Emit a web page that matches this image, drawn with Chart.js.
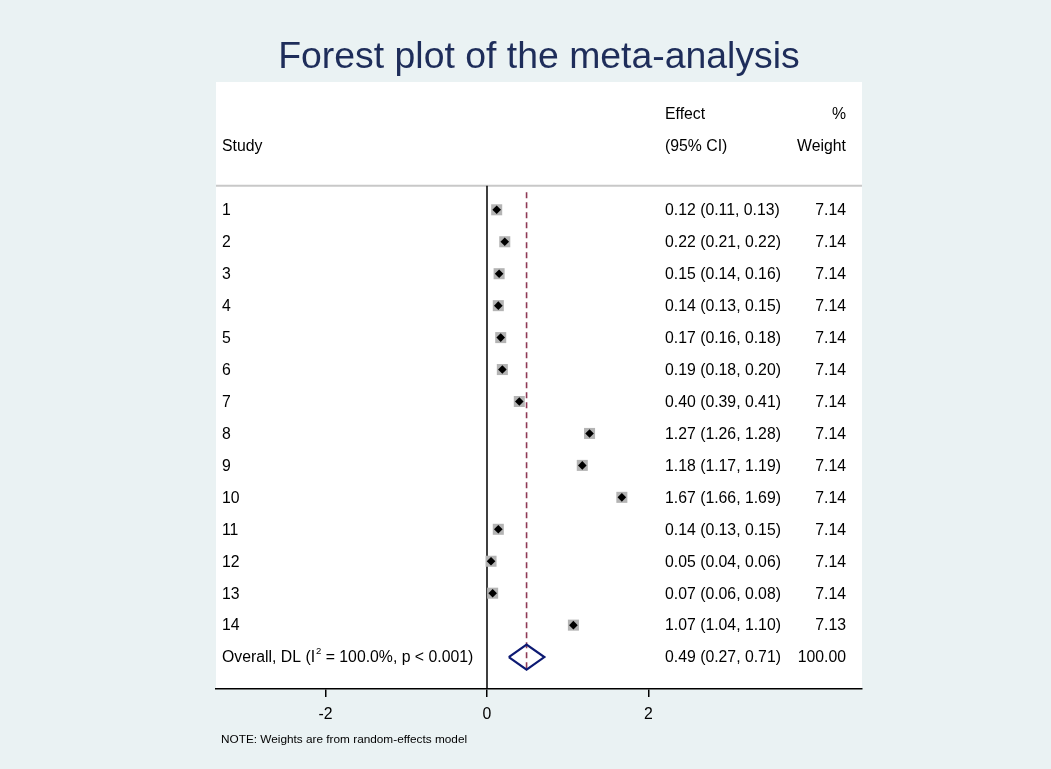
<!DOCTYPE html>
<html>
<head>
<meta charset="utf-8">
<script src="https://cdn.jsdelivr.net/npm/chart.js@4.4.1/dist/chart.umd.min.js"></script>
<style>
  html, body { margin: 0; padding: 0; background: #eaf2f3; }
  #wrap { width: 1051px; height: 769px; position: relative; }
</style>
</head>
<body>
<div id="wrap"><canvas id="forest"></canvas></div>
<script>
/* ─── Data ────────────────────────────────────────────────────────────── */
const studies = ['1','2','3','4','5','6','7','8','9','10','11','12','13','14'];
const effect  = [0.12,0.22,0.15,0.14,0.17,0.19,0.40,1.27,1.18,1.67,0.14,0.05,0.07,1.07];
const lower   = [0.11,0.21,0.14,0.13,0.16,0.18,0.39,1.26,1.17,1.66,0.13,0.04,0.06,1.04];
const upper   = [0.13,0.22,0.16,0.15,0.18,0.20,0.41,1.28,1.19,1.69,0.15,0.06,0.08,1.10];
const weights = [7.14,7.14,7.14,7.14,7.14,7.14,7.14,7.14,7.14,7.14,7.14,7.14,7.14,7.13];
const overall = { effect: 0.49, lower: 0.27, upper: 0.71, weight: 100.00 };
const overallLabel = ['Overall, DL (I', '2', ' = 100.0%, p < 0.001)'];
const xTicks  = [-2, 0, 2];

/* ─── Layout constants ────────────────────────────────────────────────── */
const X_MIN = -3.356, X_MAX = 4.644;
const Y_MIN = -3, Y_MAX = 16;
const rows = studies.map((_, i) => i + 1);
const overallRow = studies.length + 1;
const FONT = "'Liberation Sans', Arial, sans-serif";
const TXT = 15.8;   // table font size
const DY = 1;       // small baseline nudge for table text

const fmt = v => v.toFixed(2);

/* ─── Plugins ─────────────────────────────────────────────────────────── */
const backdrop = {
  id: 'backdrop',
  beforeDraw(chart) {
    const { ctx, chartArea: a } = chart;
    ctx.save();
    ctx.fillStyle = '#eaf2f3';
    ctx.fillRect(0, 0, chart.width, chart.height);
    ctx.fillStyle = '#ffffff';
    ctx.fillRect(a.left, a.top, a.right - a.left, a.bottom - a.top);
    ctx.restore();
  },
};

const tableText = {
  id: 'tableText',
  afterDraw(chart) {
    const { ctx, chartArea: a } = chart;
    const y = chart.scales.y;
    const rowY = r => y.getPixelForValue(r) + DY;
    const xStudy = a.left + 6, xEff = 665, xWt = 846;
    ctx.save();
    ctx.fillStyle = '#000';
    ctx.textBaseline = 'middle';
    ctx.font = `${TXT}px ${FONT}`;

    // header
    ctx.textAlign = 'left';
    ctx.fillText('Study', xStudy, rowY(-1));
    ctx.fillText('Effect', xEff, rowY(-2));
    ctx.fillText('(95% CI)', xEff, rowY(-1));
    ctx.textAlign = 'right';
    ctx.fillText('%', xWt, rowY(-2));
    ctx.fillText('Weight', xWt, rowY(-1));

    // study rows
    studies.forEach((s, i) => {
      const py = rowY(rows[i]);
      ctx.textAlign = 'left';
      ctx.fillText(s, xStudy, py);
      ctx.fillText(`${fmt(effect[i])} (${fmt(lower[i])}, ${fmt(upper[i])})`, xEff, py);
      ctx.textAlign = 'right';
      ctx.fillText(fmt(weights[i]), xWt, py);
    });

    // overall row with superscript
    const po = rowY(overallRow);
    ctx.textAlign = 'left';
    let cx = xStudy;
    ctx.fillText(overallLabel[0], cx, po);
    cx += ctx.measureText(overallLabel[0]).width + 1;
    ctx.font = `9.5px ${FONT}`;
    ctx.fillText(overallLabel[1], cx, po - 7);
    cx += ctx.measureText(overallLabel[1]).width;
    ctx.font = `${TXT}px ${FONT}`;
    ctx.fillText(overallLabel[2], cx, po);
    ctx.fillText(`${fmt(overall.effect)} (${fmt(overall.lower)}, ${fmt(overall.upper)})`, xEff, po);
    ctx.textAlign = 'right';
    ctx.fillText(fmt(overall.weight), xWt, po);

    // title and note
    ctx.textAlign = 'center';
    ctx.fillStyle = '#1e2d5a';
    ctx.font = `37.4px ${FONT}`;
    ctx.fillText('Forest plot of the meta-analysis', 539, 58);
    ctx.textAlign = 'left';
    ctx.fillStyle = '#000';
    ctx.font = `11.8px ${FONT}`;
    ctx.fillText('NOTE: Weights are from random-effects model', 221, 740);
    ctx.restore();
  },
};

/* ─── Datasets ────────────────────────────────────────────────────────── */
const ciData = [];
rows.forEach((r, i) => {
  ciData.push({ x: lower[i], y: r }, { x: upper[i], y: r }, { x: null, y: null });
});
const hd = 0.39; // diamond half-height in rows
const diamond = [
  { x: overall.lower, y: overallRow },
  { x: overall.effect, y: overallRow - hd },
  { x: overall.upper, y: overallRow },
  { x: overall.effect, y: overallRow + hd },
  { x: overall.lower, y: overallRow },
];

const lineDs = (data, color, width, extra = {}) => ({
  data, showLine: true, pointRadius: 0, borderColor: color, borderWidth: width,
  fill: false, ...extra,
});

new Chart(document.getElementById('forest'), {
  type: 'scatter',
  data: {
    datasets: [
      lineDs([{ x: X_MIN, y: 0.25 }, { x: X_MAX, y: 0.25 }], '#c8c8c8', 2, { order: 9 }),
      lineDs([{ x: 0, y: 0.25 }, { x: 0, y: Y_MAX }], '#000', 1.5, { order: 8 }),
      lineDs([{ x: overall.effect, y: 0.45 }, { x: overall.effect, y: 15.47 }], '#8e3a55', 1.6,
        { borderDash: [6, 4], order: 7 }),
      { data: rows.map((r, i) => ({ x: effect[i], y: r })), pointStyle: 'rect',
        pointRadius: 7.8, backgroundColor: '#b4b4b4', borderWidth: 0, order: 6 },
      lineDs(ciData, '#000', 1, { spanGaps: false, order: 5 }),
      { data: rows.map((r, i) => ({ x: effect[i], y: r })), pointStyle: 'rectRot',
        pointRadius: 4.3, backgroundColor: '#000', borderWidth: 0, order: 4 },
      lineDs(diamond, '#0d1a73', 2.2, { order: 3, borderJoinStyle: 'miter' }),
    ],
  },
  options: {
    responsive: true, maintainAspectRatio: false, animation: false,
    layout: { padding: { top: 82, left: 216, right: 189, bottom: 37 } },
    plugins: { legend: { display: false }, tooltip: { enabled: false } },
    scales: {
      x: {
        type: 'linear', min: X_MIN, max: X_MAX,
        afterBuildTicks: ax => { ax.ticks = xTicks.map(v => ({ value: v })); },
        grid: { drawOnChartArea: false, drawTicks: true, tickLength: 8, color: '#000', lineWidth: 1.5 },
        border: { display: true, color: '#000', width: 1.5 },
        ticks: { color: '#000', padding: 8, font: { family: FONT, size: 15.8 } },
      },
      y: { type: 'linear', min: Y_MIN, max: Y_MAX, reverse: true, display: false },
    },
  },
  plugins: [backdrop, tableText],
});
</script>
</body>
</html>
